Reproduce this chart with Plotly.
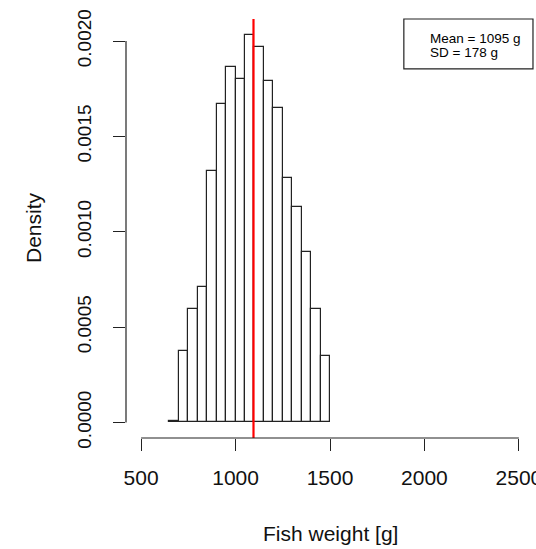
import plotly.graph_objects as go

# ---- data ----
bin_starts = [650, 700, 750, 800, 850, 900, 950, 1000, 1050, 1100, 1150,
              1200, 1250, 1300, 1350, 1400, 1450]
bin_width = 50
density = [0.00001, 0.000374, 0.000596, 0.000711, 0.00132, 0.001672, 0.001862,
           0.001803, 0.002034, 0.001966, 0.001791, 0.001651, 0.001284,
           0.00113, 0.000895, 0.000596, 0.000346]
mean_weight = 1095
sd_weight = 178

x_ticks = [500, 1000, 1500, 2000, 2500]
x_tick_labels = ["500", "1000", "1500", "2000", "2500"]
y_ticks = [0.0, 0.0005, 0.0010, 0.0015, 0.0020]
y_tick_labels = ["0.0000", "0.0005", "0.0010", "0.0015", "0.0020"]

x_range = [420, 2580]
y_max = max(density)
y_pad = 0.04 * y_max
y_range = [-y_pad, y_max + y_pad]

FONT = "Liberation Sans, Arial, sans-serif"
AX = "#222222"

bin_centers = [b + bin_width / 2 for b in bin_starts]

fig = go.Figure()
fig.add_trace(go.Bar(
    x=bin_centers, y=density, width=bin_width,
    marker=dict(color="white", line=dict(color="#222222", width=1.2)),
    showlegend=False, hoverinfo="x+y",
))

# mean line
fig.add_shape(type="line", xref="x", yref="paper", x0=mean_weight, x1=mean_weight,
              y0=0, y1=1, line=dict(color="#ff0000", width=2.2))

# R-style axis lines (only spanning tick range)
fig.add_shape(type="line", xref="x", yref="paper", x0=x_ticks[0], x1=x_ticks[-1],
              y0=0, y1=0, line=dict(color=AX, width=1.2))
fig.add_shape(type="line", xref="paper", yref="y", x0=0, x1=0,
              y0=y_ticks[0], y1=y_ticks[-1], line=dict(color=AX, width=1.2))

# legend box
fig.add_shape(type="rect", xref="paper", yref="paper",
              x0=0.681, x1=0.9975, y0=0.881, y1=1.0,
              line=dict(color=AX, width=1.2), fillcolor="white")
fig.add_annotation(xref="paper", yref="paper", x=0.740, y=0.954,
                   text=f"Mean = {mean_weight} g", showarrow=False,
                   xanchor="left", yanchor="middle",
                   font=dict(family=FONT, size=13.5, color="black"))
fig.add_annotation(xref="paper", yref="paper", x=0.740, y=0.920,
                   text=f"SD = {sd_weight} g", showarrow=False,
                   xanchor="left", yanchor="middle",
                   font=dict(family=FONT, size=13.5, color="black"))

# axis titles
fig.add_annotation(xref="paper", yref="paper", x=(330 - 126) / 408, y=-(533 - 438) / 419,
                   text="Fish weight [g]", showarrow=False,
                   xanchor="center", yanchor="middle",
                   font=dict(family=FONT, size=21, color="#111111"))
fig.add_annotation(xref="paper", yref="paper", x=-(126 - 33) / 408, y=(438 - 228) / 419,
                   text="Density", showarrow=False, textangle=-90,
                   xanchor="center", yanchor="middle",
                   font=dict(family=FONT, size=21, color="#111111"))

fig.update_layout(
    width=536, height=549,
    margin=dict(l=126, r=2, t=19, b=111, autoexpand=False),
    plot_bgcolor="white", paper_bgcolor="white",
    bargap=0,
    xaxis=dict(range=x_range, tickvals=x_ticks, ticktext=x_tick_labels,
               ticks="outside", ticklen=12, tickwidth=1.2, tickcolor=AX,
               showline=False, showgrid=False, zeroline=False, automargin=False,
               ticklabelstandoff=9, ticklabeloverflow="allow",
               tickfont=dict(family=FONT, size=21, color="#111111")),
    yaxis=dict(range=y_range, tickvals=y_ticks, ticktext=y_tick_labels,
               ticks="outside", ticklen=12, tickwidth=1.2, tickcolor=AX,
               showline=False, showgrid=False, zeroline=False, automargin=False,
               tickangle=-90, ticklabelstandoff=14, ticklabeloverflow="allow",
               tickfont=dict(family=FONT, size=19, color="#111111")),
)

fig.write_html("out.html")
